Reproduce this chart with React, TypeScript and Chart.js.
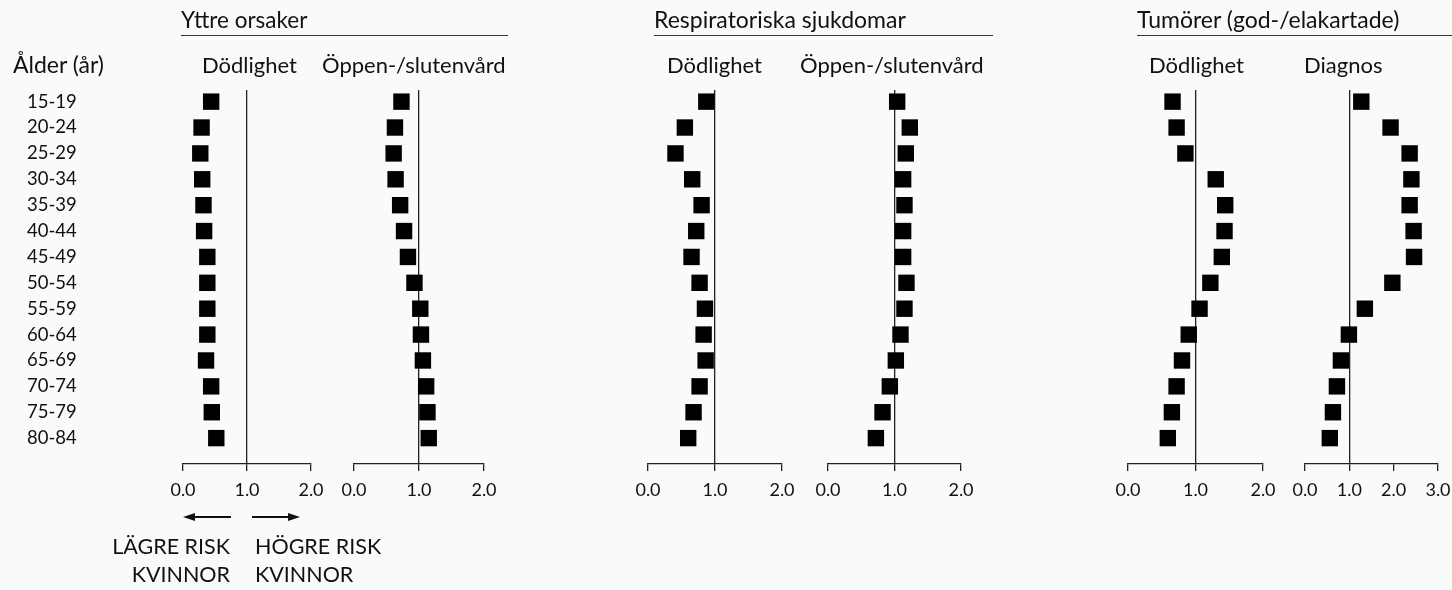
import React, { useEffect, useRef } from 'react';
import { Chart, registerables } from 'chart.js';

Chart.register(...registerables);

// ---------- data ----------
const ageGroups = ['15-19', '20-24', '25-29', '30-34', '35-39', '40-44', '45-49', '50-54', '55-59', '60-64', '65-69', '70-74', '75-79', '80-84'];

const yttreDodlighet = [0.44, 0.29, 0.27, 0.30, 0.32, 0.33, 0.38, 0.38, 0.38, 0.38, 0.36, 0.44, 0.45, 0.52];
const yttreVard = [0.73, 0.63, 0.61, 0.64, 0.71, 0.77, 0.83, 0.93, 1.02, 1.03, 1.06, 1.11, 1.13, 1.15];
const respDodlighet = [0.87, 0.55, 0.41, 0.66, 0.80, 0.72, 0.65, 0.77, 0.85, 0.83, 0.86, 0.77, 0.68, 0.60];
const respVard = [1.04, 1.23, 1.17, 1.13, 1.15, 1.13, 1.13, 1.18, 1.15, 1.09, 1.02, 0.93, 0.82, 0.72];
const tumorDodlighet = [0.66, 0.72, 0.85, 1.30, 1.44, 1.43, 1.39, 1.22, 1.06, 0.90, 0.80, 0.72, 0.65, 0.59];
const tumorDiagnos = [1.27, 1.93, 2.36, 2.40, 2.36, 2.45, 2.46, 1.97, 1.35, 0.99, 0.81, 0.72, 0.63, 0.56];

const xTickLabels = ['0.0', '1.0', '2.0', '3.0'];
const referenceValue = 1;

const groupTitles = ['Yttre orsaker', 'Respiratoriska sjukdomar', 'Tumörer (god-/elakartade)'];
const panelTitles = ['Dödlighet', 'Öppen-/slutenvård', 'Dödlighet', 'Öppen-/slutenvård', 'Dödlighet', 'Diagnos'];
const ageAxisTitle = 'Ålder (år)';
const lowerRisk = ['LÄGRE RISK', 'KVINNOR'];
const higherRisk = ['HÖGRE RISK', 'KVINNOR'];

// ---------- layout ----------
const FONT = 'Lato, "Liberation Sans", sans-serif';
const INK = '#111';
const CANVAS_H = 520;
const PLOT_TOP = 90;
const X_AXIS_H = 40;
const BOTTOM_PAD = CANVAS_H - 464 - X_AXIS_H;

type PanelSpec = { values: number[]; max: number; x0: number; x1: number; showAges?: boolean };

const panels: PanelSpec[] = [
  { values: yttreDodlighet, max: 2, x0: 183, x1: 311, showAges: true },
  { values: yttreVard, max: 2, x0: 354, x1: 484 },
  { values: respDodlighet, max: 2, x0: 648, x1: 782 },
  { values: respVard, max: 2, x0: 828, x1: 961 },
  { values: tumorDodlighet, max: 2, x0: 1128, x1: 1263 },
  { values: tumorDiagnos, max: 3, x0: 1305, x1: 1438 },
];

function Panel({ values, max, x0, x1, showAges }: PanelSpec) {
  const ref = useRef<HTMLCanvasElement | null>(null);
  const side = 26;
  const left = showAges ? 0 : x0 - side;
  const width = x1 + side - left;

  useEffect(() => {
    if (!ref.current) return;
    const yScale: any = {
      type: 'linear',
      reverse: true,
      min: -0.45,
      max: 14,
      display: !!showAges,
      ticks: {
        stepSize: 1,
        autoSkip: false,
        includeBounds: false,
        crossAlign: 'far',
        color: INK,
        font: { family: FONT, size: 18.5 },
        callback: (v: any) => (Number.isInteger(v) && v >= 0 && v < ageGroups.length ? ageGroups[v] : ''),
      },
      grid: { display: false, drawTicks: false },
      border: { display: false },
    };
    if (showAges) {
      yScale.afterFit = (s: any) => {
        s.width = x0 - 27;
      };
    }
    const chart = new Chart(ref.current, {
      type: 'scatter',
      data: {
        datasets: [
          {
            data: values.map((v, i) => ({ x: v, y: i })),
            pointStyle: 'rect',
            pointRadius: 11.6,
            backgroundColor: '#000',
            borderWidth: 0,
          },
        ],
      },
      options: {
        animation: false,
        responsive: false,
        events: [],
        layout: {
          padding: {
            top: PLOT_TOP,
            bottom: BOTTOM_PAD,
            left: showAges ? 27 : x0 - left,
            right: width - (x1 - left),
          },
        },
        plugins: { legend: { display: false }, tooltip: { enabled: false } },
        scales: {
          x: {
            type: 'linear',
            min: 0,
            max,
            afterFit: (s: any) => {
              s.height = X_AXIS_H;
            },
            ticks: {
              stepSize: 1,
              autoSkip: false,
              maxRotation: 0,
              padding: 8,
              color: INK,
              font: { family: FONT, size: 18 },
              callback: (v: any) => xTickLabels[v] ?? '',
            },
            grid: {
              color: (c: any) => (c.tick && c.tick.value === referenceValue ? '#222' : 'rgba(0,0,0,0)'),
              lineWidth: 1.3,
              tickLength: 7,
              tickColor: '#222',
              tickWidth: 1.3,
            },
            border: { display: true, color: '#222', width: 1.3 },
          },
          y: yScale,
        },
      } as any,
    });
    return () => chart.destroy();
  }, []);

  return (
    <canvas
      ref={ref}
      width={width}
      height={CANVAS_H}
      style={{ position: 'absolute', left, top: 0, width, height: CANVAS_H }}
    />
  );
}

function T({ x, y, size, text, align = 'left' }: { x: number; y: number; size: number; text: string; align?: 'left' | 'right' }) {
  // y = baseline
  const top = y - 0.887 * size;
  const style: React.CSSProperties = {
    position: 'absolute',
    top,
    fontSize: size,
    lineHeight: `${size}px`,
    fontFamily: FONT,
    color: INK,
    whiteSpace: 'nowrap',
  };
  if (align === 'left') style.left = x;
  else style.right = 1452 - x;
  return <div style={style}>{text}</div>;
}

function Rule({ x0, x1, y }: { x0: number; x1: number; y: number }) {
  return <div style={{ position: 'absolute', left: x0, top: y, width: x1 - x0, height: 1.3, background: '#333' }} />;
}

export default function App() {
  const titleBase = 28.5;
  const subBase = 73.3;
  return (
    <div style={{ position: 'absolute', left: 0, top: 0, width: 1452, height: 590, background: '#f9fafa', overflow: 'hidden' }}>
      {panels.map((p, i) => (
        <Panel key={i} {...p} />
      ))}

      <T x={181} y={titleBase} size={22.5} text={groupTitles[0]} />
      <Rule x0={181} x1={508} y={35} />
      <T x={654} y={titleBase} size={23} text={groupTitles[1]} />
      <Rule x0={654} x1={993} y={35} />
      <T x={1137} y={titleBase} size={23} text={groupTitles[2]} />
      <Rule x0={1137} x1={1452} y={35} />

      <T x={13} y={subBase} size={23} text={ageAxisTitle} />
      <T x={202} y={subBase} size={22} text={panelTitles[0]} />
      <T x={322} y={subBase} size={22} text={panelTitles[1]} />
      <T x={667} y={subBase} size={22} text={panelTitles[2]} />
      <T x={800} y={subBase} size={22} text={panelTitles[3]} />
      <T x={1149} y={subBase} size={22} text={panelTitles[4]} />
      <T x={1304} y={subBase} size={22} text={panelTitles[5]} />

      <svg width={1452} height={590} style={{ position: 'absolute', left: 0, top: 0, pointerEvents: 'none' }}>
        <line x1={192} y1={517} x2={231} y2={517} stroke="#111" strokeWidth={2} />
        <polygon points="183,517 195,513 195,521" fill="#111" />
        <line x1={252} y1={517} x2={291} y2={517} stroke="#111" strokeWidth={2} />
        <polygon points="300,517 288,513 288,521" fill="#111" />
      </svg>

      <T x={230} y={555} size={21.5} text={lowerRisk[0]} align="right" />
      <T x={230} y={583.3} size={21.5} text={lowerRisk[1]} align="right" />
      <T x={255} y={555} size={21.5} text={higherRisk[0]} />
      <T x={255} y={583.3} size={21.5} text={higherRisk[1]} />
    </div>
  );
}
